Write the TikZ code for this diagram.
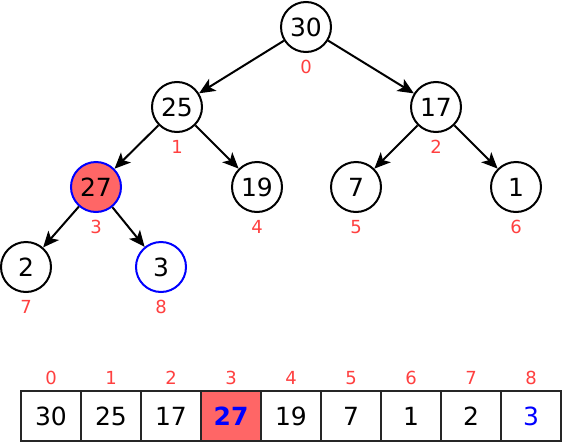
\documentclass[tikz,border=0pt]{standalone}
\usepackage{fontspec}
\setmainfont{DejaVu Sans}
\usetikzlibrary{arrows.meta}
\definecolor{idxred}{HTML}{FF4040}
\definecolor{hlfill}{HTML}{FF6666}
\begin{document}
\begin{tikzpicture}[x=1pt,y=-1pt,
  hnode/.style={circle,draw=black,line width=2pt,minimum size=50pt,inner sep=0pt,font=\fontsize{25}{25}\selectfont},
  idx/.style={text=idxred,font=\fontsize{18}{18}\selectfont,inner sep=0pt},
  cell/.style={draw=black!85,line width=2pt,minimum width=60pt,minimum height=50pt,inner sep=0pt,font=\fontsize{25}{25}\selectfont},
  edge/.style={line width=2pt,-{Stealth[length=16pt,width=14pt,inset=4pt]}}]
\useasboundingbox (0,0) rectangle (562,442);
% tree nodes
\node[hnode] (n0) at (306,27) {30};
\node[hnode] (n1) at (177,107) {25};
\node[hnode] (n2) at (436,107) {17};
\node[hnode,fill=hlfill,draw=blue] (n3) at (96,187) {27};
\node[hnode] (n4) at (257,187) {19};
\node[hnode] (n5) at (356,187) {7};
\node[hnode] (n6) at (516,187) {1};
\node[hnode] (n7) at (26,267) {2};
\node[hnode,draw=blue] (n8) at (161,267) {3};
% index labels
\node[idx] (i0) at (306,67) {0};
\node[idx] (i1) at (177,147) {1};
\node[idx] (i2) at (436,147) {2};
\node[idx] (i3) at (96,227) {3};
\node[idx] (i4) at (257,227) {4};
\node[idx] (i5) at (356,227) {5};
\node[idx] (i6) at (516,227) {6};
\node[idx] (i7) at (26,307) {7};
\node[idx] (i8) at (161,307) {8};
% edges
\draw[edge] (n0) -- (n1);
\draw[edge] (n0) -- (n2);
\draw[edge] (n1) -- (n3);
\draw[edge] (n1) -- (n4);
\draw[edge] (n2) -- (n5);
\draw[edge] (n2) -- (n6);
\draw[edge] (n3) -- (n7);
\draw[edge] (n3) -- (n8);
% array
\node[cell] (c0) at (51,416) {30};
\node[cell] (c1) at (111,416) {25};
\node[cell] (c2) at (171,416) {17};
\node[cell,fill=hlfill,text=blue,font=\fontsize{25}{25}\selectfont\bfseries] (c3) at (231,416) {27};
\node[cell] (c4) at (291,416) {19};
\node[cell] (c5) at (351,416) {7};
\node[cell] (c6) at (411,416) {1};
\node[cell] (c7) at (471,416) {2};
\node[cell,text=blue] (c8) at (531,416) {3};
\foreach \i/\x in {0/51,1/111,2/171,3/231,4/291,5/351,6/411,7/471,8/531}
  \node[idx] (a\i) at (\x,378) {\i};
\end{tikzpicture}
\end{document}
